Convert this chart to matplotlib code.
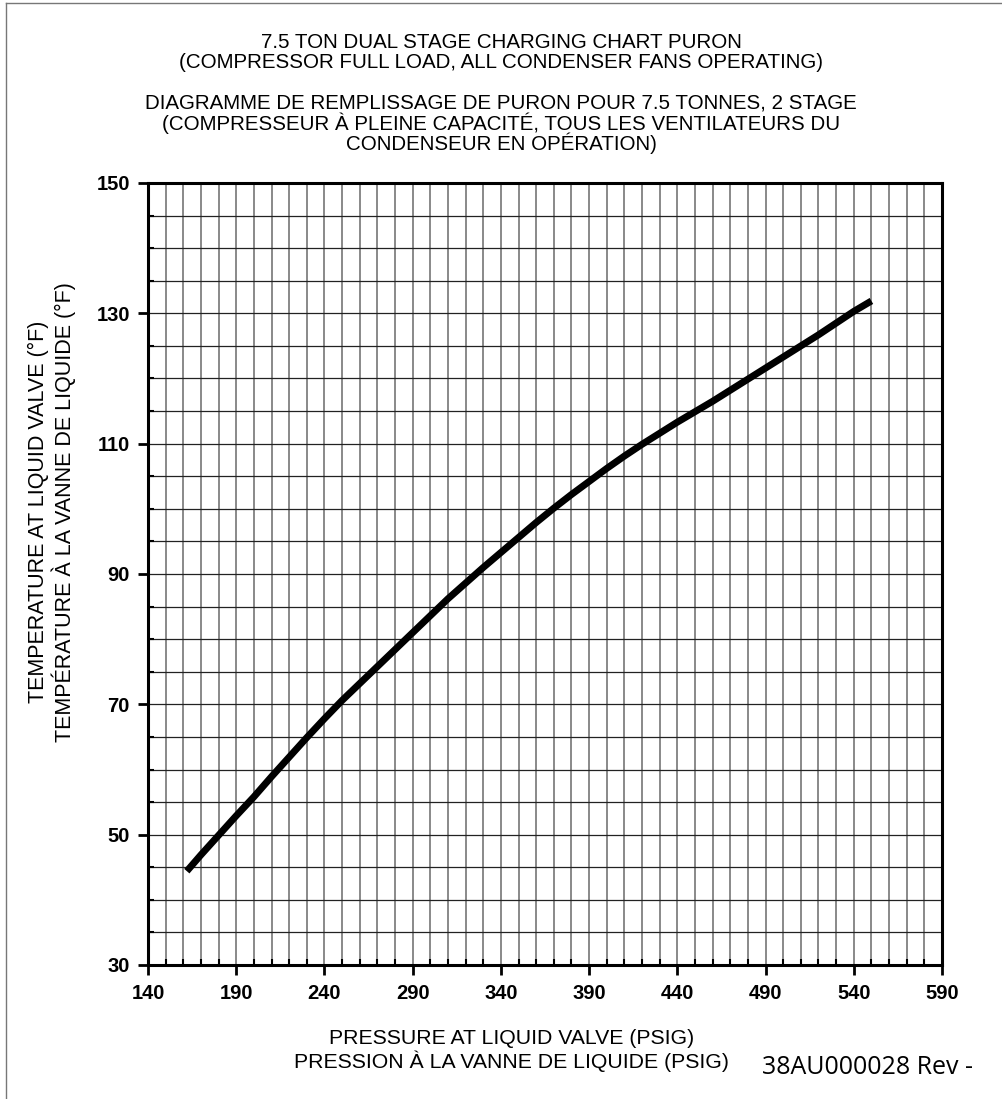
import matplotlib
matplotlib.use('Agg')
import matplotlib.pyplot as plt
from matplotlib.lines import Line2D
from matplotlib.ticker import MultipleLocator

# liquid valve pressure (psig) vs liquid valve temperature (F)
pressure = [162, 170, 180, 190, 200, 210, 220, 230, 240, 250, 260, 270, 280, 290,
            300, 310, 320, 330, 340, 350, 360, 370, 380, 390, 400, 410, 420, 430,
            440, 450, 460, 470, 480, 490, 500, 510, 520, 530, 540, 550]
temperature = [44.4, 46.9, 49.9, 52.9, 55.8, 58.9, 61.9, 64.9, 67.8, 70.6, 73.2, 75.8,
               78.4, 81.0, 83.6, 86.2, 88.6, 91.0, 93.3, 95.6, 97.9, 100.1, 102.2, 104.2,
               106.2, 108.1, 109.9, 111.6, 113.3, 114.9, 116.5, 118.2, 119.9, 121.6,
               123.3, 125.0, 126.7, 128.5, 130.3, 131.9]

x_ticks = [140, 190, 240, 290, 340, 390, 440, 490, 540, 590]
y_ticks = [30, 50, 70, 90, 110, 130, 150]

title_lines = ['7.5 TON DUAL STAGE CHARGING CHART PURON',
               '(COMPRESSOR FULL LOAD, ALL CONDENSER FANS OPERATING)',
               'DIAGRAMME DE REMPLISSAGE DE PURON POUR 7.5 TONNES, 2 STAGE',
               '(COMPRESSEUR \u00c0 PLEINE CAPACIT\u00c9, TOUS LES VENTILATEURS DU',
               'CONDENSEUR EN OP\u00c9RATION)']
ylabel_lines = ['TEMPERATURE AT LIQUID VALVE (\u00b0F)',
                'TEMP\u00c9RATURE \u00c0 LA VANNE DE LIQUIDE (\u00b0F)']
xlabel_lines = ['PRESSURE AT LIQUID VALVE (PSIG)',
                'PRESSION \u00c0 LA VANNE DE LIQUIDE (PSIG)']
doc_ref = '38AU000028 Rev -'

plt.rcParams['font.family'] = ['Liberation Sans', 'DejaVu Sans']

W, H = 1003, 1099
fig = plt.figure(figsize=(W / 100, H / 100), dpi=100)
ax = fig.add_axes([148 / W, 1 - 965 / H, 794 / W, 782 / H])

ax.plot(pressure, temperature, color='black', lw=5, solid_capstyle='butt', zorder=5)

ax.set_xlim(140, 590)
ax.set_ylim(30, 150)
ax.set_xticks(x_ticks)
ax.set_yticks(y_ticks)
ax.xaxis.set_minor_locator(MultipleLocator(10))
ax.yaxis.set_minor_locator(MultipleLocator(5))

ax.grid(True, which='both', axis='x', color='#6a6a6a', lw=1.1)
ax.grid(True, which='both', axis='y', color='#222222', lw=0.9)
ax.set_axisbelow(True)

for s in ax.spines.values():
    s.set_linewidth(2.2)
    s.set_color('black')

ax.tick_params(which='major', direction='out', length=7, width=2, pad=7)
ax.tick_params(which='minor', direction='in', length=4, width=1.5)
ax.tick_params(axis='y', which='major', pad=6)
for lbl in ax.get_xticklabels() + ax.get_yticklabels():
    lbl.set_fontweight('bold')
    lbl.set_fontsize(14.5)

# titles and labels, one line at a time
for y, line in zip([42, 62, 103, 123, 143], title_lines):
    fig.text(501 / W, 1 - y / H, line, ha='center', va='center', fontsize=14.8)
for x, line in zip([38, 64], ylabel_lines):
    fig.text(x / W, 1 - 512 / H, line, rotation=90, ha='center', va='center', fontsize=15.5)
for y, line in zip([1039, 1061], xlabel_lines):
    fig.text(512 / W, 1 - y / H, line, ha='center', va='center', fontsize=15.3)
fig.text(973 / W, 1 - 1068 / H, doc_ref, ha='right', va='center',
         fontsize=18, family=['Open Sans', 'DejaVu Sans'])

# thin page border at left and top
fig.add_artist(Line2D([6 / W, 6 / W], [0, 1 - 3 / H], color='#777777', lw=1))
fig.add_artist(Line2D([6 / W, 1], [1 - 3 / H, 1 - 3 / H], color='#777777', lw=1))

fig.savefig('out.png', dpi=100)
